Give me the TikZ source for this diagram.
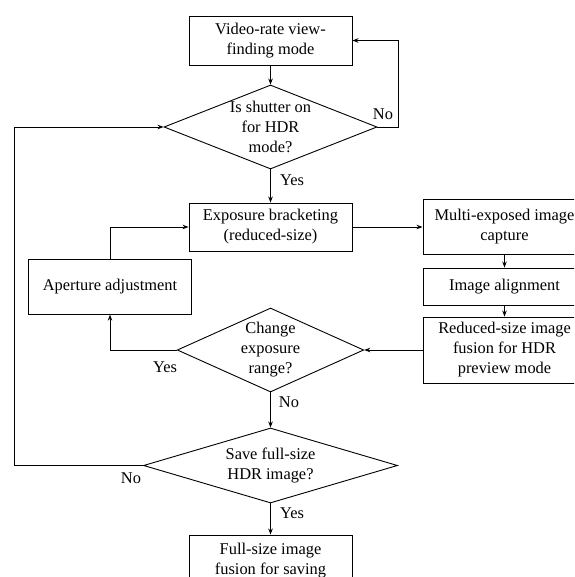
\documentclass[tikz,border=0pt]{standalone}
\usepackage{fontspec}
\setmainfont{Liberation Serif}
\usetikzlibrary{shapes.geometric,arrows.meta}
\tikzset{
  every node/.style={font=\fontsize{16.4}{20}\selectfont},
  box/.style={draw, line width=0.9pt, minimum width=163pt, inner sep=0pt, align=center},
  decision/.style={draw, diamond, line width=0.9pt, inner sep=0pt},
  dtext/.style={align=center, inner sep=0pt},
  lbl/.style={inner sep=0pt},
  conn/.style={line width=0.9pt, -{Stealth[length=6pt,width=4.5pt]}},
  line/.style={line width=0.9pt}
}
\begin{document}
\begin{tikzpicture}[x=1pt,y=-1pt]
\useasboundingbox (0,0) rectangle (574,577);
\clip (0,0) rectangle (574,577);
% boxes
\node[box, minimum height=49pt] (v1) at (270.5,40.5) {Video-rate view-\\finding mode};
\node[box, minimum height=48pt] (exp) at (270.5,227) {Exposure bracketing\\(reduced-size)};
\node[box, minimum height=55pt] (multi) at (504.5,227) {Multi-exposed image\\capture};
\node[box, minimum height=37pt] (align) at (504.5,286.5) {Image alignment};
\node[box, minimum height=66pt] (red) at (504.5,350) {Reduced-size image\\fusion for HDR\\preview mode};
\node[box, minimum height=55pt] (ap) at (110,286.7) {Aperture adjustment};
\node[box, minimum height=52pt] (full) at (270.5,561) {Full-size image\\fusion for saving};
% decisions
\node[decision, minimum width=213pt, minimum height=84pt] (d1) at (270.5,127) {};
\node[dtext] (d1t) at (d1) {Is shutter on\\for HDR\\mode?};
\node[decision, minimum width=186.5pt, minimum height=84pt] (d2) at (270.5,350) {};
\node[dtext] (d2t) at (d2) {Change\\exposure\\range?};
\node[decision, minimum width=254pt, minimum height=75pt] (d3) at (270.5,465.5) {};
\node[dtext] (d3t) at (d3) {Save full-size\\HDR image?};
% helper coordinates
\coordinate (c1) at (398,40.5);
\coordinate (c2) at (14.5,127);
% connectors
\draw[conn] (v1.south) -- (d1.north);
\draw[conn] (d1.south) -- (exp.north);
\draw[conn] (d1.east) -| (c1) -- (v1.east);
\draw[conn] (exp.east) -- (multi.west);
\draw[conn] (multi.south) -- (align.north);
\draw[conn] (align.south) -- (red.north);
\draw[conn] (red.west) -- (d2.east);
\draw[conn] (d2.west) -| (ap.south);
\draw[conn] (ap.north) |- (exp.west);
\draw[conn] (d2.south) -- (d3.north);
\draw[conn] (d3.west) -| (c2) -- (d1.west);
\draw[conn] (d3.south) -- (full.north);
% labels
\node[lbl] (l1) at (383,114) {No};
\node[lbl] (l2) at (292,180) {Yes};
\node[lbl] (l3) at (165,367) {Yes};
\node[lbl] (l4) at (289,402) {No};
\node[lbl] (l5) at (131,478) {No};
\node[lbl] (l6) at (292,513) {Yes};
\end{tikzpicture}
\end{document}
